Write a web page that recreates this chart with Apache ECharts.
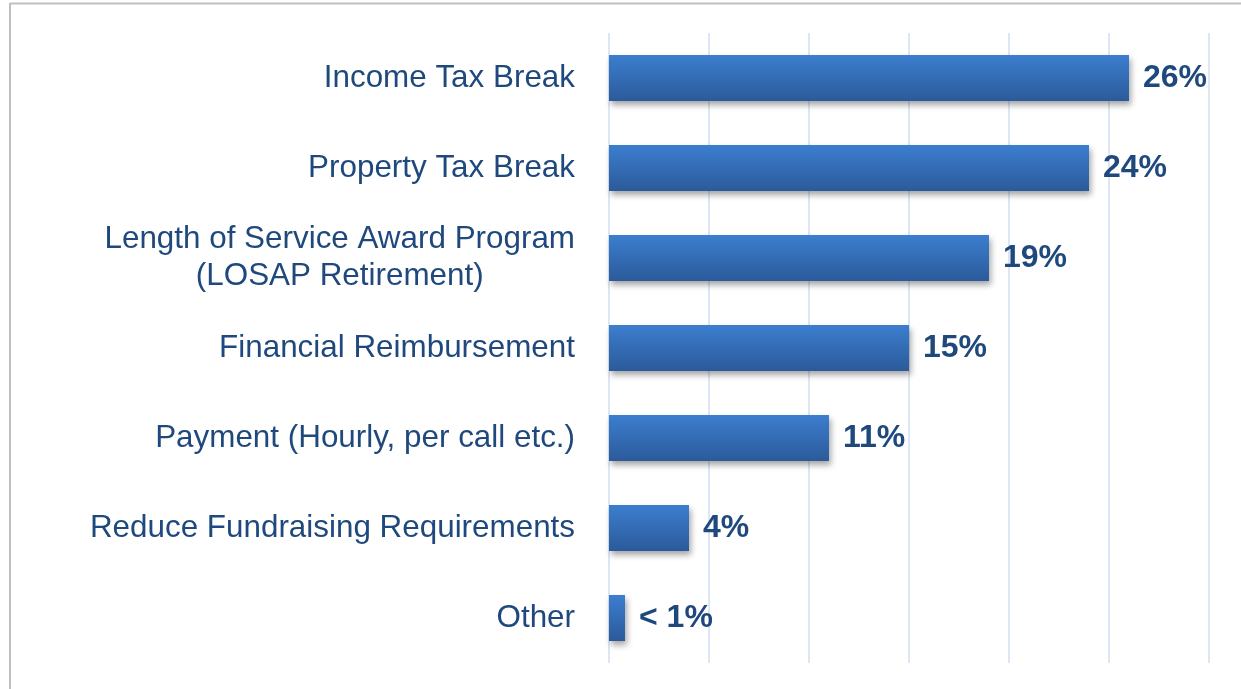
<!DOCTYPE html>
<html>
<head>
<meta charset="utf-8">
<script src="https://cdn.jsdelivr.net/npm/echarts@6/dist/echarts.min.js"></script>
<style>
	html, body { margin: 0; padding: 0; background: #fff; }
	#chart { width: 1241px; height: 689px; }
</style>
</head>
<body>
<div id="chart"></div>
<script>
	var categories = [
		'Income Tax Break',
		'Property Tax Break',
		'Length of Service Award Program\n(LOSAP Retirement)',
		'Financial Reimbursement',
		'Payment (Hourly, per call etc.)',
		'Reduce Fundraising Requirements',
		'Other'
	];
	var values = [26, 24, 19, 15, 11, 4, 0.8];
	var valueLabels = ['26%', '24%', '19%', '15%', '11%', '4%', '< 1%'];

	var textColor = '#1F497D';

	var myChart = echarts.init(document.getElementById('chart'));
	var option = {
		animation: false,
		graphic: [
			{ type: 'line', shape: { x1: 10, y1: 3.5, x2: 1241, y2: 3.5 }, style: { stroke: '#bfbfbf', lineWidth: 2 } },
			{ type: 'line', shape: { x1: 10, y1: 3, x2: 10, y2: 689 }, style: { stroke: '#bfbfbf', lineWidth: 2 } }
		],
		grid: { left: 609, right: 32, top: 33, bottom: 26 },
		xAxis: {
			type: 'value',
			min: 0,
			max: 30,
			interval: 5,
			axisLabel: { show: false },
			axisLine: { show: false },
			axisTick: { show: false },
			splitLine: { show: true, lineStyle: { color: '#dce6f4', width: 2 } }
		},
		yAxis: {
			type: 'category',
			inverse: true,
			data: categories,
			axisLine: { show: false },
			axisTick: { show: false },
			axisLabel: {
				margin: 34,
				formatter: function (v) {
					return v.split('\n').map(function (s) { return '{c|' + s + '}'; }).join('\n');
				},
				rich: {
					c: {
						fontFamily: 'Liberation Sans, Arial, sans-serif',
						fontSize: 31.4,
						color: textColor,
						lineHeight: 37,
						align: 'center'
					}
				}
			}
		},
		series: [{
			type: 'bar',
			data: values,
			barWidth: 46,
			itemStyle: {
				color: new echarts.graphic.LinearGradient(0, 0, 0, 1, [
					{ offset: 0, color: '#3c7ecf' },
					{ offset: 1, color: '#2b5a9a' }
				]),
				shadowColor: 'rgba(0,0,0,0.35)',
				shadowBlur: 6,
				shadowOffsetX: 2,
				shadowOffsetY: 4
			},
			label: {
				show: true,
				position: 'right',
				distance: 14,
				fontFamily: 'Liberation Sans, Arial, sans-serif',
				fontSize: 32,
				fontWeight: 'bold',
				color: textColor,
				formatter: function (p) { return valueLabels[p.dataIndex]; }
			}
		}]
	};
	option && myChart.setOption(option);
</script>
</body>
</html>
